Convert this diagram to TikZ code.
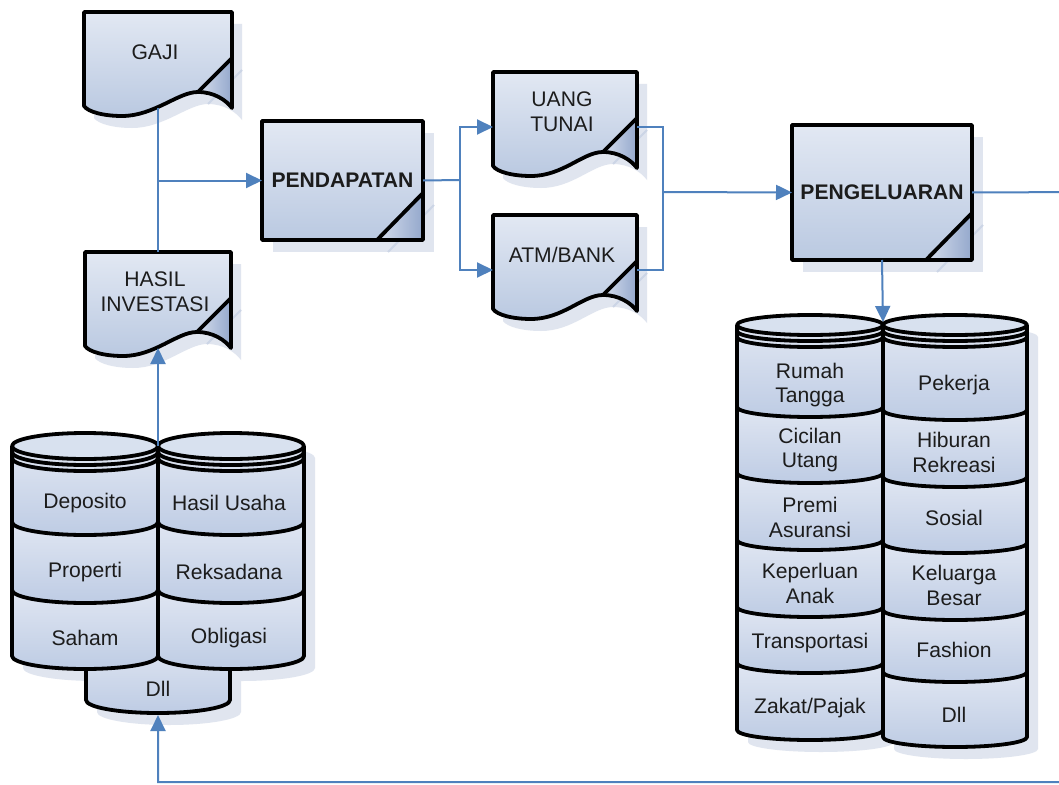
\documentclass[tikz,border=0pt]{standalone}
\usepackage{fontspec}
\setmainfont{Liberation Sans}
\usetikzlibrary{arrows.meta}

\definecolor{connc}{RGB}{79,129,189}
\definecolor{shadowc}{RGB}{224,229,239}
\definecolor{shadowln}{RGB}{204,213,230}
\definecolor{fillTop}{RGB}{226,232,243}
\definecolor{fillBot}{RGB}{186,201,225}
\definecolor{foldL}{RGB}{214,222,237}
\definecolor{foldR}{RGB}{148,168,204}
\definecolor{segTop}{RGB}{224,230,242}
\definecolor{segBot}{RGB}{190,204,228}
\definecolor{capc}{RGB}{216,225,239}
\definecolor{txtc}{RGB}{28,28,28}

\tikzset{
  outl/.style={draw=black, line width=3.8bp, line join=round},
  conn/.style={draw=connc, line width=2bp},
  arr/.style={-{Triangle[length=16bp,width=15bp]}},
  lbl/.style={font=\fontsize{21.2}{25}\selectfont, text=txtc, align=center, inner sep=0pt},
  blbl/.style={lbl, font=\fontsize{21.2}{25}\selectfont\bfseries},
  frame/.style={inner sep=0pt, outer sep=0pt, draw=none},
}

% outline of a document symbol of width #1 (wavy lower edge, folded corner)
\newcommand\docoutline[1]{(0,0) -- (#1,0) -- (#1,96)
  .. controls (#1-6,88) and (#1-18,80) .. (#1-34,80)
  .. controls (#1-54,80) and (70,104) .. (38,104)
  .. controls (20,104) and (4,100) .. (0,94) -- cycle}

% document symbol: #1 left, #2 top, #3 width, #4 name, #5 text
\newcommand\docshape[5]{%
\begin{scope}[shift={(#1,#2)}]
  \begin{scope}[shift={(10,12)}]
    \fill[shadowc] \docoutline{#3};
    \draw[shadowln, line width=2bp] (#3,46) -- (#3-34,80);
  \end{scope}
  \shade[top color=fillTop, bottom color=fillBot] \docoutline{#3};
  \shade[left color=foldL, right color=foldR] (#3,46) -- (#3-34,80)
     .. controls (#3-18,80) and (#3-6,88) .. (#3,96) -- cycle;
  \draw[outl] \docoutline{#3};
  \draw[outl] (#3,46) -- (#3-34,80);
  \node[frame, minimum width=#3bp, minimum height=96bp] (#4) at (#3/2,48) {};
  \node[lbl] (#4-t) at (#3/2-3,40) {#5};
\end{scope}}

% process box with folded corner: #1 left, #2 top, #3 width, #4 height, #5 name, #6 text
\newcommand\foldbox[6]{%
\begin{scope}[shift={(#1,#2)}]
  \fill[shadowc] (11,12) rectangle (#3+11,#4+12);
  \draw[shadowln, line width=2bp] (#3+11,#4-35) -- (#3-35,#4+12);
  \shade[top color=fillTop, bottom color=fillBot] (0,0) rectangle (#3,#4);
  \shade[left color=foldL, right color=foldR] (#3,#4-47) -- (#3,#4) -- (#3-46,#4) -- cycle;
  \draw[outl] (0,0) rectangle (#3,#4);
  \draw[outl] (#3,#4-47) -- (#3-46,#4);
  \node[frame, minimum width=#3bp, minimum height=#4bp] (#5) at (#3/2,#4/2) {};
  \node[blbl] (#5-t) at (#3/2,#4/2) {#6};
\end{scope}}

% soft shadow of a cylinder: #1 cx, #2 half width, #3 ry, #4 top, #5 bottom
\newcommand\cylshadow[5]{%
  \fill[shadowc] (#1-#2+11,#4+12) -- (#1-#2+11,#5+12)
    arc[start angle=180,end angle=360,x radius=#2bp,y radius=#3bp]
    -- (#1+#2+11,#4+12)
    arc[start angle=0,end angle=180,x radius=#2bp,y radius=#3bp] -- cycle;}

% stacked cylinder: #1 cx, #2 half width, #3 ry, #4 top, #5 inner boundaries, #6 bottom
\newcommand\cylcol[6]{%
  \foreach \yb [remember=\yb as \ya (initially #4)] in {#5,#6}{%
    \shade[top color=segTop, bottom color=segBot]
      (#1-#2,\ya) arc[start angle=180,end angle=360,x radius=#2bp,y radius=#3bp]
      -- (#1+#2,\yb) arc[start angle=360,end angle=180,x radius=#2bp,y radius=#3bp] -- cycle;}
  \filldraw[outl, fill=capc] (#1,#4) ellipse[x radius=#2bp, y radius=#3bp];
  \draw[outl] (#1-#2,#4+6) arc[start angle=180,end angle=360,x radius=#2bp,y radius=#3bp];
  \draw[outl] (#1-#2,#4+12) arc[start angle=180,end angle=360,x radius=#2bp,y radius=#3bp];
  \foreach \yb in {#5}{%
    \draw[outl] (#1-#2,\yb) arc[start angle=180,end angle=360,x radius=#2bp,y radius=#3bp];}
  \draw[outl] (#1-#2,#4) -- (#1-#2,#6)
    arc[start angle=180,end angle=360,x radius=#2bp,y radius=#3bp] -- (#1+#2,#4);}

\begin{document}
\begin{tikzpicture}[x=1bp, y=-1bp]
\useasboundingbox (0,0) rectangle (1059,785);
\clip (0,0) rectangle (1059,785);
\fill[white] (0,0) rectangle (1059,785);

% ---------- income side ----------
\docshape{84}{12}{148}{gaji}{GAJI}
\docshape{85}{252}{146}{hasil}{HASIL\\INVESTASI}
\foldbox{262}{121}{161}{119}{pend}{PENDAPATAN}
\docshape{493}{72}{144}{uang}{UANG\\TUNAI}
\docshape{493}{215}{144}{atm}{ATM/BANK}
\foldbox{792}{125}{180}{135}{peng}{PENGELUARAN}

% ---------- investment stack ----------
\cylshadow{158}{72}{13}{640}{700}
\cylshadow{85}{73}{13}{446}{656}
\cylshadow{231}{73}{13}{446}{656}
% small "Dll" drum behind the two columns
\shade[top color=segTop, bottom color=segBot]
  (86,640) -- (86,700) arc[start angle=180,end angle=360,x radius=72bp,y radius=13bp]
  -- (230,640) -- cycle;
\draw[outl] (86,650) -- (86,700) arc[start angle=180,end angle=360,x radius=72bp,y radius=13bp] -- (230,650);
\coordinate (dllbot) at (158,715);
\cylcol{85}{73}{13}{446}{522,590}{656}
\cylcol{231}{73}{13}{446}{522,590}{656}
\coordinate (invtop) at (158,446);

\node[lbl] (i1) at (85,503) {Deposito};
\node[lbl] (i2) at (85,572) {Properti};
\node[lbl] (i3) at (85,638) {Saham};
\node[lbl] (i4) at (229,503) {Hasil Usaha};
\node[lbl] (i5) at (229,572) {Reksadana};
\node[lbl] (i6) at (229,638) {Obligasi};
\node[lbl] (i7) at (158,689) {Dll};

% ---------- expense stack ----------
\cylshadow{810}{73}{10}{325}{730}
\cylshadow{955}{72}{10}{325}{737}
\cylcol{810}{73}{10}{325}{407,473,540,607,663}{730}
\cylcol{955}{72}{10}{325}{410,477,543,610,672}{737}
\coordinate (exptop) at (883,322);

\node[lbl] (e1) at (810,385) {Rumah\\Tangga};
\node[lbl] (e2) at (810,450) {Cicilan\\Utang};
\node[lbl] (e3) at (810,517) {Premi\\Asuransi};
\node[lbl] (e4) at (810,583) {Keperluan\\Anak};
\node[lbl] (e5) at (810,643) {Transportasi};
\node[lbl] (e6) at (810,708) {Zakat/Pajak};
\node[lbl] (f1) at (954,385) {Pekerja};
\node[lbl] (f2) at (954,452) {Hiburan\\Rekreasi};
\node[lbl] (f3) at (954,518) {Sosial};
\node[lbl] (f4) at (954,585) {Keluarga\\Besar};
\node[lbl] (f5) at (954,650) {Fashion};
\node[lbl] (f6) at (954,715) {Dll};

% ---------- connectors ----------
\coordinate (b1) at (460,180);
\coordinate (m1) at (663,192);
\coordinate (loopR) at (1085,192);
\coordinate (loopB) at (1085,782);

\draw[conn] (gaji.south) -- (gaji.south |- hasil.north);
\draw[conn,arr] (gaji.south |- pend.west) -- (pend.west);
\draw[conn,arr] (invtop) -- (invtop |- hasil.south);
\draw[conn] (pend.east) -- (b1);
\draw[conn,arr] (b1) |- ([yshift=-7bp]uang.west);
\draw[conn,arr] (b1) |- ([yshift=-7bp]atm.west);
\draw[conn] ([yshift=-7bp]uang.east) -| (m1) |- ([yshift=-7bp]atm.east);
\draw[conn,arr] (m1) -- (peng.west);
\draw[conn,arr] (peng.south) -- (exptop);
\draw[conn,arr] (peng.east) -- (loopR) -- (loopB) -| (dllbot);
\end{tikzpicture}
\end{document}
